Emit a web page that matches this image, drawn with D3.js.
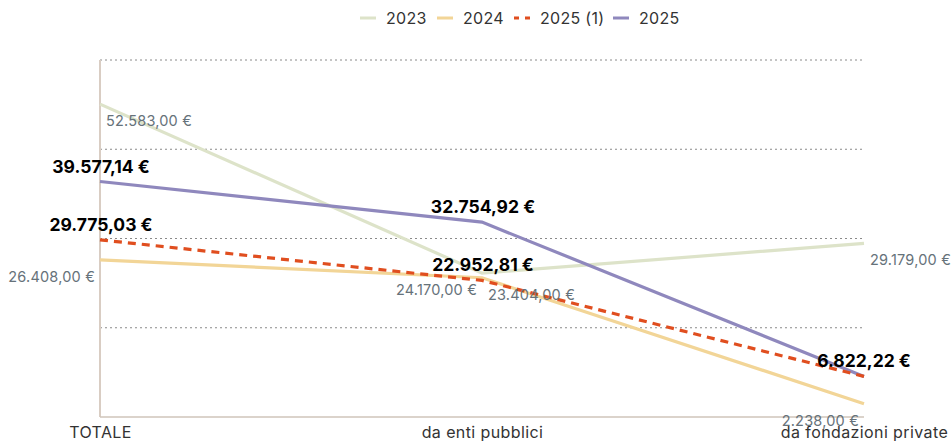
<!DOCTYPE html>
<html>
<head>
<meta charset="utf-8">
<script src="https://cdn.jsdelivr.net/npm/d3@7"></script>
<style>
  body { margin: 0; background: #fff; }
  svg { font-family: Inter, "Noto Sans", sans-serif; }
</style>
</head>
<body>
<svg id="chart" width="952" height="442"></svg>
<script>
// categorie e serie
const categorie = ["TOTALE", "da enti pubblici", "da fondazioni private"];
const serie = ["2023", "2024", "2025 (1)", "2025"];
const valori2023 = [52583.00, 24170.00, 29179.00];
const valori2024 = [26408.00, 23404.00, 2238.00];
const valori2025_1 = [29775.03, 22952.81, 6822.22];
const valori2025 = [39577.14, 32754.92, 6822.22];
const yTicks = [15000, 30000, 45000, 60000];

const colori = ["#dde3c9", "#f2d597", "#e04e1f", "#8f88bd"];
const dati = [valori2023, valori2024, valori2025_1, valori2025];

const svg = d3.select("#chart");
function euro(v) {
  let [int, dec] = v.toFixed(2).split(".");
  int = int.replace(/\B(?=(\d{3})+(?!\d))/g, ".");
  return int + "," + dec + " €";
}

const x = d3.scalePoint().domain(categorie).range([100, 864]);
const y = d3.scaleLinear().domain([0, 60000]).range([417, 60]);

// griglia
svg.append("g").selectAll("line").data(yTicks).join("line")
  .attr("x1", 100).attr("x2", 864)
  .attr("y1", d => y(d)).attr("y2", d => y(d))
  .attr("stroke", "#8a8a8a").attr("stroke-width", 1)
  .attr("stroke-dasharray", "2,3");

// assi
svg.append("line").attr("x1", 100).attr("x2", 100).attr("y1", y(60000)).attr("y2", y(0))
  .attr("stroke", "#d9cdc3").attr("stroke-width", 2);
svg.append("line").attr("x1", 100).attr("x2", 864).attr("y1", y(0)).attr("y2", y(0))
  .attr("stroke", "#cfc4ba").attr("stroke-width", 1.5);

const xAxis = svg.append("g").attr("transform", `translate(0,${y(0)})`)
  .call(d3.axisBottom(x).tickSize(0).tickPadding(10));
xAxis.select(".domain").remove();
xAxis.selectAll("text").attr("font-size", 16).attr("fill", "#333")
  .attr("letter-spacing", "0.4px")
  .attr("font-family", "Inter, sans-serif");

// linee
const line = d3.line().x((d, i) => x(categorie[i])).y(d => y(d));
const ordine = [0, 1, 3, 2];
ordine.forEach(s => {
  svg.append("path").datum(dati[s])
    .attr("d", line).attr("fill", "none")
    .attr("stroke", colori[s]).attr("stroke-width", 3.2)
    .attr("stroke-dasharray", s == 2 ? "8,6" : null);
});

// etichette grigie (2023, 2024) alternate sinistra/destra
[0, 1].forEach(s => {
  dati[s].forEach((v, i) => {
    const destra = (i + s) % 2 == 0;
    svg.append("text")
      .attr("x", x(categorie[i]) + (destra ? 6 : -5))
      .attr("y", y(v) + 22)
      .attr("text-anchor", destra ? "start" : "end")
      .attr("font-size", 14.5).attr("fill", "#66727a")
      .attr("letter-spacing", "0.2px")
      .text(euro(v));
  });
});

// etichette in grassetto (2025 (1) e 2025), sopra il punto
[2, 3].forEach(s => {
  dati[s].forEach((v, i) => {
    if (s == 3 && i == 2) return; // stesso punto di 2025 (1)
    svg.append("text")
      .attr("x", x(categorie[i]) + (i == 2 ? 0 : 1))
      .attr("y", y(v) - 9)
      .attr("text-anchor", "middle")
      .attr("font-size", 17.5).attr("font-weight", 700).attr("fill", "#000")
      .text(euro(v));
  });
});

// legenda
const legX = [360, 437, 514, 613];
const leg = svg.append("g");
serie.forEach((s, i) => {
  leg.append("line").attr("x1", legX[i]).attr("x2", legX[i] + 16)
    .attr("y1", 18).attr("y2", 18)
    .attr("stroke", colori[i]).attr("stroke-width", 3)
    .attr("stroke-dasharray", i == 2 ? "5,6" : null);
  leg.append("text").attr("x", legX[i] + 26).attr("y", 23.5)
    .attr("font-size", 16).attr("fill", "#333")
    .attr("letter-spacing", "0.3px").text(s);
});
</script>
</body>
</html>
